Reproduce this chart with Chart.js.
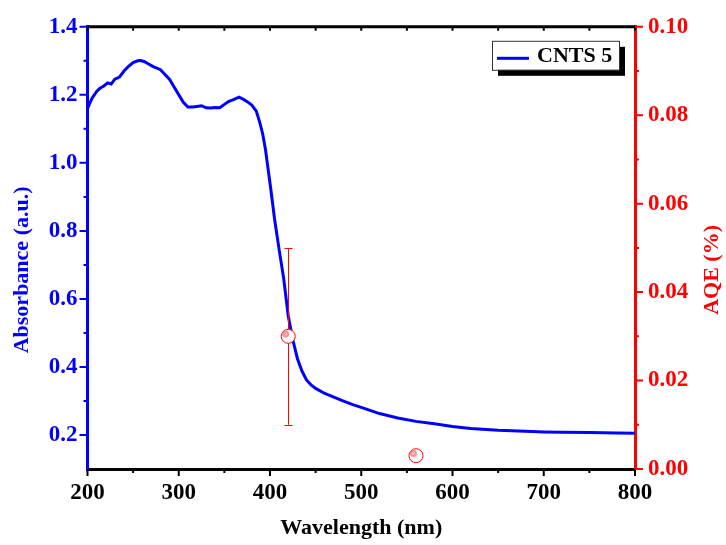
<!DOCTYPE html>
<html>
<head>
<meta charset="utf-8">
<script src="https://cdn.jsdelivr.net/npm/chart.js@4/dist/chart.umd.min.js"></script>
<style>
  html, body { margin: 0; padding: 0; background: #fff; }
  #wrap { width: 726px; height: 545px; }
</style>
</head>
<body>
<div id="wrap"><canvas id="absChart" width="726" height="545"></canvas></div>
<script>
// 吸收光谱 (CNTS 5)
const wavelength = [200, 205, 210, 214, 218, 222, 226, 230, 235, 240, 245, 250, 255, 258, 262, 266, 272, 280, 290, 300,
    305, 310, 315, 320, 325, 330, 335, 340, 345, 350, 355, 360, 366, 370, 375, 380, 385, 389, 392, 395,
    398, 401, 405, 410, 415, 420, 425, 430, 435, 440, 445, 450, 460, 470, 480, 490, 500, 520, 540, 560,
    580, 600, 620, 650, 680, 700, 720, 750, 780, 800];
const absorbance = [1.160, 1.190, 1.210, 1.220, 1.226, 1.235, 1.232, 1.246, 1.252, 1.270, 1.284, 1.295, 1.300, 1.301, 1.298, 1.292, 1.283, 1.274, 1.245, 1.200,
    1.178, 1.164, 1.164, 1.166, 1.168, 1.162, 1.161, 1.163, 1.162, 1.172, 1.181, 1.186, 1.193, 1.188, 1.180, 1.170, 1.152, 1.117, 1.085, 1.040,
    0.980, 0.920, 0.835, 0.745, 0.660, 0.550, 0.480, 0.425, 0.388, 0.362, 0.347, 0.337, 0.322, 0.311, 0.300, 0.290, 0.281, 0.263, 0.250, 0.240,
    0.233, 0.225, 0.219, 0.214, 0.211, 0.209, 0.208, 0.207, 0.206, 0.205];

// AQE 数据点及误差
const aqeWavelength = [420, 560];
const aqeValue = [0.030, 0.003];
const aqeLow = [0.010, null];
const aqeHigh = [0.050, null];

// 刻度
const wlTicks = [200, 300, 400, 500, 600, 700, 800];
const wlMinor = [250, 350, 450, 550, 650, 750];
const absTicks = [0.2, 0.4, 0.6, 0.8, 1.0, 1.2, 1.4];
const absMinor = [0.3, 0.5, 0.7, 0.9, 1.1, 1.3];
const aqeTicks = [0.00, 0.02, 0.04, 0.06, 0.08, 0.10];
const aqeMinor = [0.01, 0.03, 0.05, 0.07, 0.09];

const FONT = '"Liberation Serif", "Times New Roman", serif';
const BLUE = '#0000ff';
const RED = '#ff0000';

function fixTicks(arr) {
    return function(scale) {
        scale.ticks = arr.map(v => ({ value: v }));
    };
}

// 坐标轴刻度线、上边框、误差线、图例、轴标题
const framePlugin = {
    id: 'framePlugin',
    afterDatasetsDraw(chart) {
        const ctx = chart.ctx;
        const area = chart.chartArea;
        const sx = chart.scales.x, sy = chart.scales.y, sy1 = chart.scales.y1;
        ctx.save();

        // 误差线
        ctx.strokeStyle = RED;
        ctx.lineWidth = 1;
        aqeWavelength.forEach((w, i) => {
            if (aqeLow[i] == null) return;
            const px = Math.round(sx.getPixelForValue(w)) + 0.5;
            const pLo = sy1.getPixelForValue(aqeLow[i]);
            const pHi = sy1.getPixelForValue(aqeHigh[i]);
            const pMid = sy1.getPixelForValue(aqeValue[i]);
            ctx.beginPath();
            ctx.moveTo(px, pHi); ctx.lineTo(px, pMid - 7);
            ctx.moveTo(px, pMid + 7); ctx.lineTo(px, pLo);
            ctx.moveTo(px - 4, Math.round(pHi) + 0.5); ctx.lineTo(px + 4, Math.round(pHi) + 0.5);
            ctx.moveTo(px - 4, Math.round(pLo) + 0.5); ctx.lineTo(px + 4, Math.round(pLo) + 0.5);
            ctx.stroke();
        });
        // 圆点内的高光
        aqeWavelength.forEach((w, i) => {
            const px = sx.getPixelForValue(w);
            const py = sy1.getPixelForValue(aqeValue[i]);
            ctx.beginPath();
            ctx.arc(px - 2.5, py - 2.3, 3.4, 0, Math.PI * 2);
            ctx.fillStyle = 'rgba(250, 120, 120, 0.85)';
            ctx.fill();
            ctx.beginPath();
            ctx.arc(px - 2.5, py - 2.3, 1.8, 0, Math.PI * 2);
            ctx.fillStyle = 'rgba(255, 190, 190, 0.9)';
            ctx.fill();
        });

        // 上边框
        ctx.strokeStyle = '#000';
        ctx.lineWidth = 3;
        ctx.beginPath();
        ctx.moveTo(area.left, area.top);
        ctx.lineTo(area.right, area.top);
        ctx.stroke();

        // x 轴刻度
        ctx.lineWidth = 2;
        ctx.strokeStyle = '#000';
        ctx.beginPath();
        wlTicks.forEach(v => {
            const p = sx.getPixelForValue(v);
            ctx.moveTo(p, area.bottom); ctx.lineTo(p, area.bottom + 7);
            ctx.moveTo(p, area.top); ctx.lineTo(p, area.top + 4);
        });
        wlMinor.forEach(v => {
            const p = sx.getPixelForValue(v);
            ctx.moveTo(p, area.bottom); ctx.lineTo(p, area.bottom + 4);
            ctx.moveTo(p, area.top); ctx.lineTo(p, area.top + 4);
        });
        ctx.stroke();

        // 左轴刻度
        ctx.strokeStyle = BLUE;
        ctx.beginPath();
        absTicks.forEach(v => {
            const p = sy.getPixelForValue(v);
            ctx.moveTo(area.left, p); ctx.lineTo(area.left - 8, p);
        });
        absMinor.forEach(v => {
            const p = sy.getPixelForValue(v);
            ctx.moveTo(area.left, p); ctx.lineTo(area.left - 4, p);
        });
        ctx.stroke();

        // 右轴刻度
        ctx.strokeStyle = RED;
        ctx.beginPath();
        aqeTicks.forEach(v => {
            const p = sy1.getPixelForValue(v);
            ctx.moveTo(area.right, p); ctx.lineTo(area.right + 8, p);
        });
        aqeMinor.forEach(v => {
            const p = sy1.getPixelForValue(v);
            ctx.moveTo(area.right, p); ctx.lineTo(area.right + 4, p);
        });
        ctx.stroke();

        // 图例
        const lx = area.right - 143, ly = area.top + 14, lw = 127, lh = 29;
        ctx.fillStyle = '#000';
        ctx.fillRect(lx + 6, ly + 6, lw, lh);
        ctx.fillStyle = '#fff';
        ctx.fillRect(lx, ly, lw, lh);
        ctx.strokeStyle = '#333';
        ctx.lineWidth = 1;
        ctx.strokeRect(lx + 0.5, ly + 0.5, lw, lh);
        ctx.strokeStyle = BLUE;
        ctx.lineWidth = 3;
        ctx.beginPath();
        ctx.moveTo(lx + 5, ly + 17.5);
        ctx.lineTo(lx + 37, ly + 17.5);
        ctx.stroke();
        ctx.fillStyle = '#000';
        ctx.font = 'bold 22px ' + FONT;
        ctx.textAlign = 'left';
        ctx.textBaseline = 'middle';
        ctx.fillText('CNTS 5', lx + 45, ly + 16);

        // 轴标题
        const midY = (area.top + area.bottom) / 2 + 22;
        ctx.textAlign = 'center';
        ctx.fillStyle = '#000';
        ctx.fillText('Wavelength (nm)', (area.left + area.right) / 2, 528);

        ctx.save();
        ctx.translate(22, midY);
        ctx.rotate(-Math.PI / 2);
        ctx.fillStyle = BLUE;
        ctx.fillText('Absorbance (a.u.)', 0, 0);
        ctx.restore();

        ctx.save();
        ctx.translate(712, midY);
        ctx.rotate(-Math.PI / 2);
        ctx.fillStyle = RED;
        ctx.fillText('AQE (%)', 0, 0);
        ctx.restore();

        ctx.restore();
    }
};

const ctx = document.getElementById('absChart').getContext('2d');
new Chart(ctx, {
    type: 'line',
    data: {
        datasets: [
            {
                label: 'AQE',
                data: aqeWavelength.map((w, i) => ({ x: w, y: aqeValue[i] })),
                yAxisID: 'y1',
                showLine: false,
                pointStyle: 'circle',
                pointRadius: 7,
                pointBorderWidth: 1,
                pointBorderColor: RED,
                pointBackgroundColor: '#fff',
                order: 0
            },
            {
                label: 'CNTS 5',
                data: wavelength.map((w, i) => ({ x: w, y: absorbance[i] })),
                yAxisID: 'y',
                borderColor: BLUE,
                borderWidth: 3,
                pointRadius: 0,
                tension: 0,
                fill: false,
                order: 1
            }
        ]
    },
    options: {
        responsive: false,
        animation: false,
        layout: { padding: { top: 23, left: 0, right: 0, bottom: 0 } },
        plugins: {
            legend: { display: false },
            tooltip: { enabled: false }
        },
        scales: {
            x: {
                type: 'linear',
                min: 200,
                max: 800,
                afterBuildTicks: fixTicks(wlTicks),
                afterFit: s => { s.height = 76; },
                grid: { display: false, drawTicks: false },
                border: { display: true, color: '#000', width: 3 },
                ticks: {
                    padding: 10,
                    color: '#000',
                    font: { family: FONT, size: 23, weight: 'bold' },
                    maxRotation: 0
                }
            },
            y: {
                position: 'left',
                min: 0.1,
                max: 1.4,
                afterBuildTicks: fixTicks(absTicks),
                afterFit: s => { s.width = 87.5; },
                grid: { display: false, drawTicks: false },
                border: { display: true, color: BLUE, width: 3 },
                ticks: {
                    padding: 10,
                    color: BLUE,
                    font: { family: FONT, size: 23, weight: 'bold' },
                    callback: v => v.toFixed(1)
                }
            },
            y1: {
                position: 'right',
                min: 0,
                max: 0.1,
                afterBuildTicks: fixTicks(aqeTicks),
                afterFit: s => { s.width = 91; },
                grid: { display: false, drawTicks: false },
                border: { display: true, color: RED, width: 3 },
                ticks: {
                    padding: 13,
                    color: RED,
                    font: { family: FONT, size: 23, weight: 'bold' },
                    callback: v => v.toFixed(2)
                }
            }
        }
    },
    plugins: [framePlugin]
});
</script>
</body>
</html>
